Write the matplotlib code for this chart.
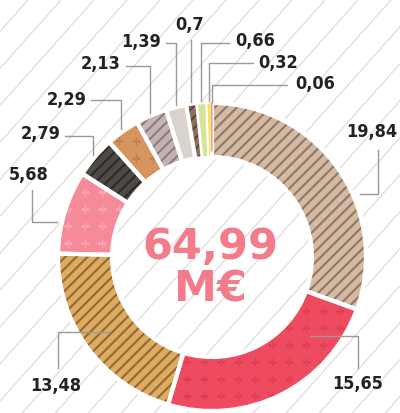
import matplotlib
matplotlib.use("Agg")
import matplotlib.pyplot as plt
from matplotlib import font_manager as fm
import numpy as np

# ── Données ────────────────────────────────────────────────────────────────────
values = [19.84, 15.65, 13.48, 5.68, 2.79, 2.29, 2.13, 1.39, 0.7, 0.66, 0.32, 0.06]
labels = ["19,84", "15,65", "13,48", "5,68", "2,79", "2,29", "2,13", "1,39",
          "0,7", "0,66", "0,32", "0,06"]
total_text = "64,99\nM€"

# ── Couleurs / motifs ──────────────────────────────────────────────────────────
FACE = ["#d5baa3", "#ef4b60", "#e1ab5f", "#f58b99", "#4f4a45", "#d6955f",
        "#c4b3b2", "#d9d3cc", "#8e7060", "#d5e49a", "#f3e64a", "#f1a080"]
PATTERN = ["stripe", "plus", "stripe", "plus", "stripe", "plus",
           "stripe", None, "stripe", None, None, None]
PAT_COLOR = ["#8f7767", "#dc3f55", "#8b6a3c", "#f8a6b1", "#2c2926", "#c07e50",
             "#8c7c7b", "#b3aca5", "#5a4439", None, None, None]
EDGE_LW = [3, 3, 3, 3, 3, 3, 3, 3, 2, 1.4, 1.0, 0]
BG_LINE = "#e2e2e2"
TEXT_COLOR = "#222222"
LEAD_COLOR = "#9a9a9a"
CENTER_COLOR = "#f27c89"

W, H = 400, 413
CX, CY = 212, H - 257
R_OUT, RING = 154, 54

# repères des étiquettes (coords image) : t le long du secteur, rayon, mode,
# fin de ligne (ex, ey), texte (tx, ty), alignement
LEADERS = [
    (0.61, 161, "h", 378, 150, 372, 132, "center"),
    (0.22, 126, "h", 358, 368, 358, 384, "center"),
    (0.50, 127, "h", 58, 368, 56, 386, "center"),
    (0.36, 159, "h", 32, 190, 29, 175, "center"),
    (0.50, 157, "v", 65, 136, 61, 134, "right"),
    (0.50, 157, "v", 91, 100, 87, 100, "right"),
    (0.50, 157, "v", 126, 66, 121, 64, "right"),
    (0.50, 156, "v", 166, 43, 161, 42, "right"),
    (0.50, 156, "v", None, 40, 190, 25, "center"),
    (0.50, 156, "v", 229, 43, 235, 41, "left"),
    (0.50, 156, "v", 253, 63, 258, 63, "left"),
    (0.50, 155, "v", 287, 85, 295, 84, "left"),
]


def _narrow_font(size):
    # police étroite grasse si disponible, sinon DejaVu
    best = None
    for f in fm.fontManager.ttflist:
        key = (f.name + " " + f.fname).lower()
        if "narrow" in key or "condensed" in key:
            if "italic" in key or "oblique" in key:
                continue
            score = 2 if (f.weight in ("bold", 700) or "bold" in key) else 1
            if best is None or score > best[0]:
                best = (score, f.fname)
    if best:
        return fm.FontProperties(fname=best[1], size=size)
    return fm.FontProperties(family="DejaVu Sans", weight="bold",
                             stretch="condensed", size=size)


plt.rcParams["hatch.linewidth"] = 1.5

fig = plt.figure(figsize=(W / 100, H / 100), dpi=100)
fig.patch.set_facecolor("white")
ax = fig.add_axes([0, 0, 1, 1])
ax.set_xlim(0, W)
ax.set_ylim(0, H)
ax.axis("off")

# fond rayé
for x0 in np.arange(-500, 900, 33):
    ax.plot([x0, x0 - H / 1.12], [H, 0], color=BG_LINE, linewidth=1.1, zorder=0,
            solid_capstyle="butt")

common = dict(startangle=90, counterclock=False, center=(CX, CY), radius=R_OUT,
              normalize=True, frame=True)

# couche 1 : remplissages
wedges, _ = ax.pie(values, colors=FACE,
                   wedgeprops=dict(width=RING, linewidth=0), **common)
for w in wedges:
    w.set_zorder(2)

# couche 2 : rayures
hw, _ = ax.pie(values, colors=["none"] * len(values),
               wedgeprops=dict(width=RING, linewidth=0), **common)
for w, p, pc in zip(hw, PATTERN, PAT_COLOR):
    w.set_zorder(3)
    if p == "stripe":
        w.set_hatch("///")
        w.set_edgecolor(pc)
    else:
        w.set_visible(False)

# motifs "+" découpés dans les secteurs
gx, gy = np.meshgrid(np.arange(0, W, 17), np.arange(0, H, 17))
for w, p, pc in zip(wedges, PATTERN, PAT_COLOR):
    if p != "plus":
        continue
    sc = ax.scatter(gx.ravel(), gy.ravel(), marker="+", s=36, linewidths=1.0,
                    color=pc, zorder=3)
    sc.set_clip_path(w)

# couche 3 : séparations blanches
ew, _ = ax.pie(values, colors=["none"] * len(values),
               wedgeprops=dict(width=RING, edgecolor="white"), **common)
for w, lw in zip(ew, EDGE_LW):
    w.set_linewidth(lw)
    w.set_zorder(4)

# le tout petit secteur par-dessus
tw, _ = ax.pie(values, colors=FACE, wedgeprops=dict(width=RING - 6), **common)
for i, w in enumerate(tw):
    if values[i] < 0.1:
        w.set_edgecolor(FACE[i])
        w.set_linewidth(0.9)
        w.set_zorder(5)
    else:
        w.set_visible(False)

ax.set_xlim(0, W)
ax.set_ylim(0, H)
ax.set_aspect("equal")

# ── Étiquettes ────────────────────────────────────────────────────────────────
label_font = _narrow_font(13)
for w, lab, (t, r, mode, ex, ey, tx, ty, ha) in zip(wedges, labels, LEADERS):
    ang = np.deg2rad(w.theta2 - t * (w.theta2 - w.theta1))
    axx = CX + r * np.cos(ang)
    ayy = CY + r * np.sin(ang)
    ey_d = H - ey
    if mode == "h":
        xs, ys = [axx, ex, ex], [ayy, ayy, ey_d]
    elif ex is None:
        xs, ys = [axx, axx], [ayy, ey_d]
    else:
        xs, ys = [axx, axx, ex], [ayy, ey_d, ey_d]
    ax.plot(xs, ys, color=LEAD_COLOR, linewidth=1.0, zorder=6)
    ax.text(tx, H - ty, lab, ha=ha, va="center", fontproperties=label_font,
            color=TEXT_COLOR, zorder=7)

ax.text(CX - 2, H - 268, total_text, ha="center", va="center", fontsize=31,
        fontweight="bold", family="DejaVu Sans", color=CENTER_COLOR,
        linespacing=1.0, zorder=7)

fig.savefig("out.png", dpi=100, facecolor="white")
